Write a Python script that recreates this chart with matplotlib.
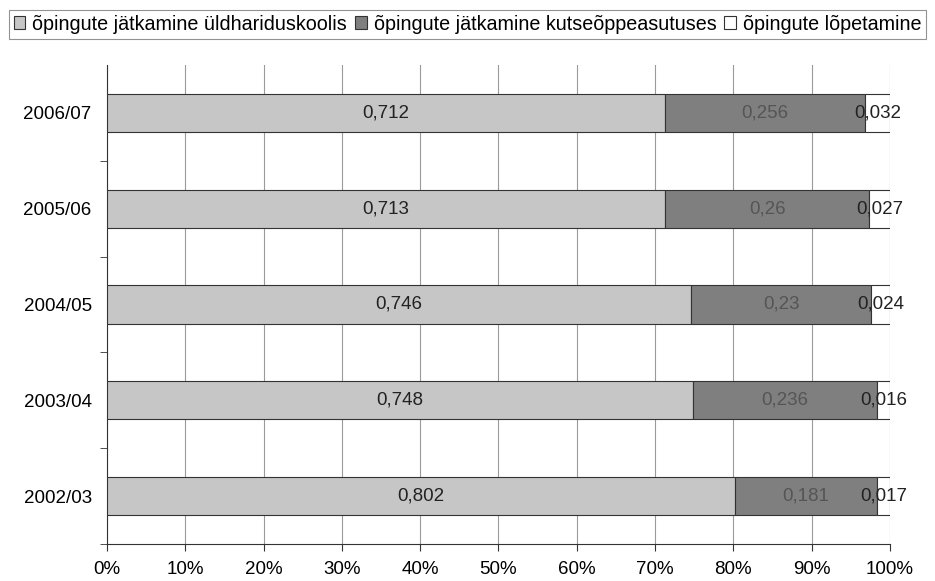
import matplotlib.pyplot as plt
import numpy as np

plt.rcParams['font.family'] = ['Liberation Sans', 'DejaVu Sans']

# data (shares of pupils)
years = ['2002/03', '2003/04', '2004/05', '2005/06', '2006/07']
yld = [0.802, 0.748, 0.746, 0.713, 0.712]
kutse = [0.181, 0.236, 0.23, 0.26, 0.256]
lopetamine = [0.017, 0.016, 0.024, 0.027, 0.032]
series_names = ['õpingute jätkamine üldhariduskoolis',
                'õpingute jätkamine kutseõppeasutuses',
                'õpingute lõpetamine']
colors = ['#c6c6c6', '#7f7f7f', '#ffffff']
label_colors = ['#222222', '#555555', '#222222']

fs = 13.5

fig = plt.figure(figsize=(9.35, 5.81), dpi=100)
ax = fig.add_axes([0.1144, 0.0637, 0.8375, 0.8245])

y = np.arange(len(years))
left = np.zeros(len(years))
handles = []
for vals, col, lc, name in zip([yld, kutse, lopetamine], colors, label_colors, series_names):
    vals = np.array(vals)
    h = ax.barh(y, vals, left=left, height=0.4, color=col, edgecolor='#333333',
                linewidth=0.8, zorder=3, label=name)
    handles.append(h)
    for yi, l, v in zip(y, left, vals):
        ax.text(l + v / 2, yi, f'{v:g}'.replace('.', ','), ha='center', va='center',
                fontsize=fs, color=lc, zorder=4)
    left = left + vals

ax.set_xlim(0, 1)
ax.set_ylim(-0.5, len(years) - 0.5)
ax.set_xticks(np.arange(0, 1.01, 0.1))
ax.set_xticklabels([f'{int(round(t * 100))}%' for t in np.arange(0, 1.01, 0.1)])
ax.set_yticks(y)
ax.set_yticklabels(years)
ax.set_yticks(np.arange(-0.5, len(years) - 1, 1), minor=True)
ax.tick_params(axis='y', which='major', length=0, labelsize=fs, pad=11)
ax.tick_params(axis='y', which='minor', length=5, color='#333333')
ax.tick_params(axis='x', length=5, labelsize=fs, pad=7, color='#333333')
ax.grid(axis='x', color='#9a9a9a', linewidth=0.8, zorder=0)
for s in ['top', 'right']:
    ax.spines[s].set_visible(False)
ax.spines['left'].set_color('#333333')
ax.spines['bottom'].set_color('#333333')

leg = fig.legend(handles=handles, loc='upper center', bbox_to_anchor=(0.5, 0.99),
                 ncol=3, frameon=True, fontsize=14.2, handlelength=0.6, handleheight=0.6,
                 handletextpad=0.35, columnspacing=0.4, borderpad=0.25, fancybox=False,
                 edgecolor='#777777', borderaxespad=0.2)
leg.get_frame().set_linewidth(0.8)

fig.savefig('out.png', dpi=100)
